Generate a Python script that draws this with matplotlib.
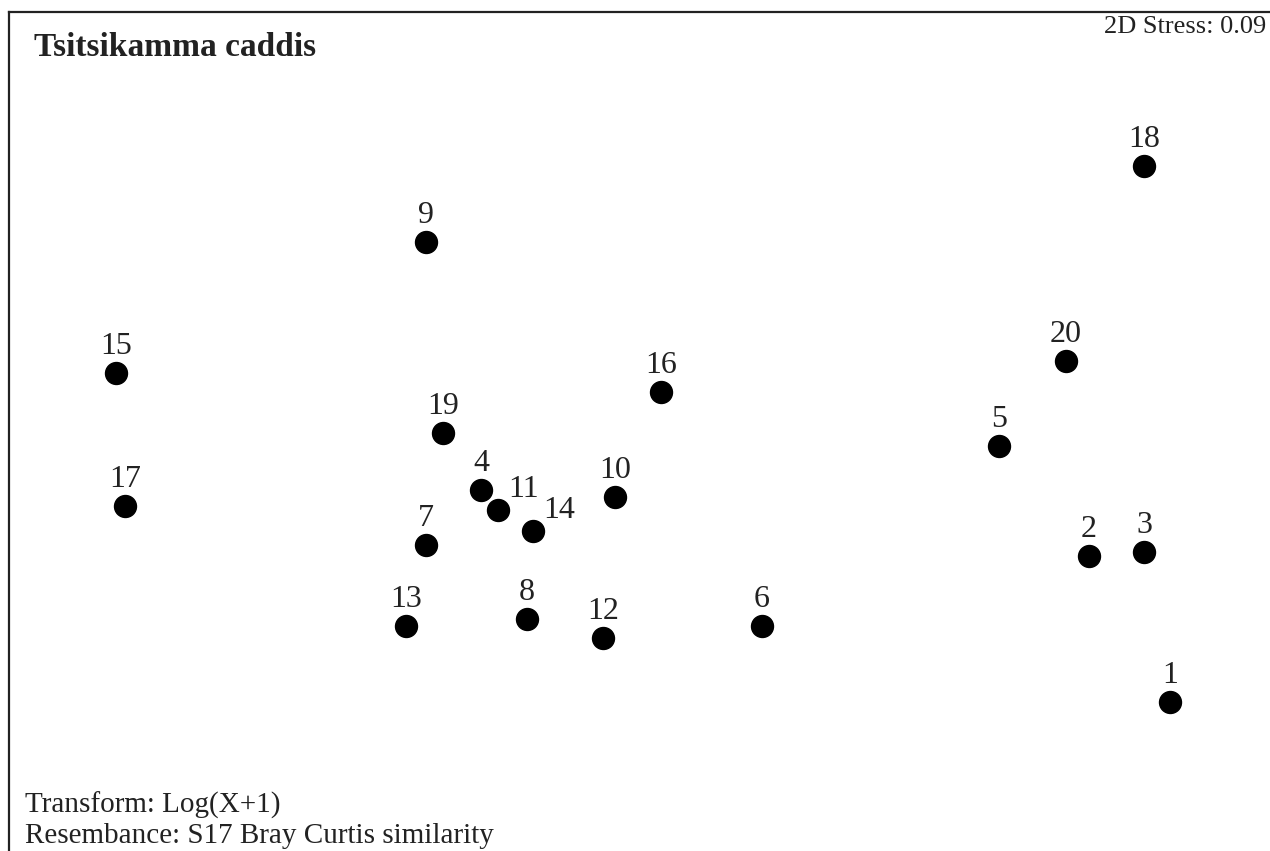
import matplotlib.pyplot as plt

plt.rcParams['font.family'] = ['Liberation Serif', 'DejaVu Serif']

# sample labels and MDS positions (pixel-like units)
labels = ['1', '2', '3', '4', '5', '6', '7', '8', '9', '10',
          '11', '12', '13', '14', '15', '16', '17', '18', '19', '20']
mds_x = [1170, 1089, 1144, 481, 999, 762, 426, 527, 426, 615,
         498, 603, 406, 533, 116, 661, 125, 1144, 443, 1066]
mds_y = [702, 556, 552, 490, 446, 626, 545, 619, 242, 497,
         510, 638, 626, 531, 373, 392, 506, 166, 433, 361]

title = 'Tsitsikamma caddis'
stress = '2D Stress: 0.09'
notes = ['Transform: Log(X+1)', 'Resembance: S17 Bray Curtis similarity']

W, H = 1270, 851
fig = plt.figure(figsize=(12.7, 8.51), dpi=100)
x0, x1, y0, y1 = 9, 1278, 12, 858
ax = fig.add_axes([x0 / W, 1 - y1 / H, (x1 - x0) / W, (y1 - y0) / H])
ax.set_xlim(x0, x1)
ax.set_ylim(y1, y0)
ax.set_xticks([])
ax.set_yticks([])
for s in ax.spines.values():
    s.set_linewidth(1.6)
    s.set_color('#222222')

ax.scatter(mds_x, mds_y, s=250, color='black', zorder=3)

for lab, x, y in zip(labels, mds_x, mds_y):
    if lab in ('11', '14'):
        ax.text(x + 10, y - 13, lab, fontsize=23, ha='left', va='baseline', color='#222222')
    else:
        ax.text(x, y - 19, lab, fontsize=23, ha='center', va='baseline', color='#222222')

ax.text(34, 56, title, fontsize=24, fontweight='bold', ha='left', va='baseline', color='#222222')
ax.text(1266, 33, stress, fontsize=19, ha='right', va='baseline', color='#222222')
ax.text(25, 813, notes[0], fontsize=21, ha='left', va='baseline', color='#222222')
ax.text(25, 843, notes[1], fontsize=21, ha='left', va='baseline', color='#222222')

fig.savefig('out.png', dpi=100)
